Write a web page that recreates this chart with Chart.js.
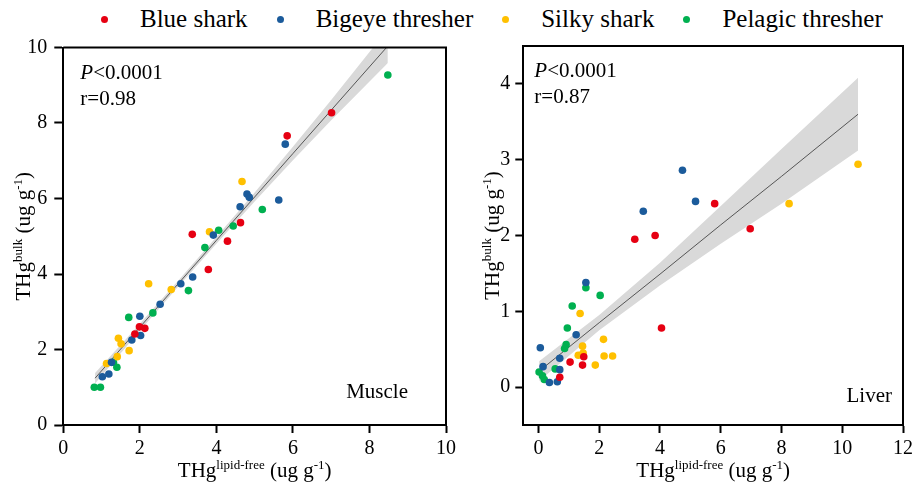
<!DOCTYPE html>
<html>
<head>
<meta charset="utf-8">
<script src="https://cdn.jsdelivr.net/npm/chart.js@4"></script>
<style>
  body { margin: 0; width: 917px; height: 487px; background: #fff; position: relative; overflow: hidden; font-family: "Liberation Serif", serif; }
  #legend { position: absolute; top: 5px; left: 101px; display: flex; align-items: center; font-size: 25px; color: #000; white-space: nowrap; }
  .item { display: flex; align-items: center; margin-right: 29px; }
  .dot { width: 7px; height: 7px; border-radius: 50%; margin-right: 32px; }
  canvas { position: absolute; top: 0; }
</style>
</head>
<body>
<div id="legend"></div>
<canvas id="muscle" width="470" height="487" style="left:0"></canvas>
<canvas id="liver" width="447" height="487" style="left:470px"></canvas>
<script>
const species = ['Blue shark', 'Bigeye thresher', 'Silky shark', 'Pelagic thresher'];
const colors = ['#e60012', '#1b5b9b', '#ffc000', '#00b050'];

// muscle: [lipid-free, bulk]
const muscleBlueShark = [[1.87,2.41],[1.99,2.60],[2.13,2.56],[3.79,4.12],[3.37,5.05],[4.29,4.87],[4.63,5.36],[5.85,7.66],[7.01,8.27]];
const muscleBigeye = [[1.02,1.28],[1.19,1.35],[1.26,1.66],[1.79,2.25],[2.02,2.37],[2.00,2.88],[2.53,3.20],[3.07,3.74],[3.38,3.92],[3.92,5.03],[4.62,5.78],[4.80,6.12],[4.86,6.03],[5.63,5.96],[5.80,7.44]];
const muscleSilky = [[1.13,1.63],[1.41,1.81],[1.72,1.97],[1.44,2.30],[1.51,2.15],[2.23,3.74],[2.82,3.59],[3.82,5.12],[4.67,6.45]];
const musclePelagic = [[0.81,1.00],[0.97,1.00],[1.40,1.53],[1.31,1.66],[1.71,2.85],[2.34,2.97],[3.27,3.56],[3.70,4.70],[4.06,5.16],[4.44,5.27],[5.20,5.71],[8.48,9.27]];

const muscleFitX = [0.83, 2, 3, 4, 5, 6, 7, 8.48];
const muscleFitY = [1.24, 2.59, 3.74, 4.89, 6.04, 7.19, 8.34, 10.04];
const muscleLower = [1.10, 2.50, 3.66, 4.80, 5.92, 7.01, 8.07, 9.59];
const muscleUpper = [1.38, 2.68, 3.82, 4.98, 6.16, 7.37, 8.61, 10.49];

// liver
const liverBlueShark = [[5.80,2.42],[3.17,1.95],[3.84,2.00],[4.05,0.78],[6.97,2.09],[1.49,0.40],[1.04,0.33],[1.45,0.29],[0.70,0.13]];
const liverBigeye = [[4.74,2.86],[5.17,2.45],[3.45,2.32],[1.56,1.38],[1.24,0.69],[0.06,0.52],[0.70,0.38],[0.15,0.27],[0.70,0.23],[0.36,0.06],[0.62,0.07]];
const liverSilky = [[8.25,2.42],[10.52,2.94],[1.37,0.97],[1.45,0.54],[2.14,0.63],[1.31,0.42],[1.47,0.45],[2.16,0.41],[2.44,0.41],[1.87,0.29]];
const liverPelagic = [[1.56,1.31],[2.03,1.21],[1.11,1.07],[0.95,0.78],[0.91,0.56],[0.86,0.51],[0.55,0.24],[0.02,0.20],[0.19,0.10],[0.13,0.15]];

const liverFitX = [0.02, 2, 4, 6, 8, 10.52];
const liverFitY = [0.21, 0.85, 1.49, 2.14, 2.78, 3.60];
const liverLower = [0.08, 0.75, 1.34, 1.89, 2.42, 3.12];
const liverUpper = [0.34, 0.95, 1.64, 2.39, 3.14, 4.08];

// tick labels
const muscleTicks = [0, 2, 4, 6, 8, 10];
const liverXTicks = [0, 2, 4, 6, 8, 10, 12];
const liverYTicks = [0, 1, 2, 3, 4];

const FONT = '"Liberation Serif", "Times New Roman", serif';
Chart.defaults.font.family = FONT;

// legend in html
const legend = document.getElementById('legend');
species.forEach((name, i) => {
  const item = document.createElement('div');
  item.className = 'item';
  item.innerHTML = '<span class="dot" style="background:' + colors[i] + '"></span><span>' + name + '</span>';
  legend.appendChild(item);
});

const toPts = arr => arr.map(p => ({ x: p[0], y: p[1] }));
const zip = (xs, ys) => xs.map((x, i) => ({ x: x, y: ys[i] }));

// draws text with superscripts, optionally rotated
function drawRich(ctx, parts, x, y, align, rotate) {
  ctx.save();
  ctx.translate(x, y);
  if (rotate) ctx.rotate(-Math.PI / 2);
  ctx.fillStyle = '#000';
  ctx.textBaseline = 'alphabetic';
  const fontOf = p => (p.italic ? 'italic ' : '') + (p.sup ? 13 : 21) + 'px ' + FONT;
  let total = 0;
  parts.forEach(p => { ctx.font = fontOf(p); total += ctx.measureText(p.t).width; });
  let cx = align === 'center' ? -total / 2 : (align === 'right' ? -total : 0);
  parts.forEach(p => {
    ctx.font = fontOf(p);
    ctx.fillText(p.t, cx, p.sup ? -8 : 0);
    cx += ctx.measureText(p.t).width;
  });
  ctx.restore();
}

const xTitle = [{ t: 'THg' }, { t: 'lipid-free', sup: true }, { t: ' (ug g' }, { t: '-1', sup: true }, { t: ')' }];
const yTitle = [{ t: 'THg' }, { t: 'bulk', sup: true }, { t: ' (ug g' }, { t: '-1', sup: true }, { t: ')' }];

const decorations = {
  id: 'decorations',
  afterDraw(chart, args, opts) {
    const ctx = chart.ctx;
    const a = chart.chartArea;
    // top and right frame
    ctx.save();
    ctx.strokeStyle = '#000';
    ctx.lineWidth = 2;
    ctx.beginPath();
    ctx.moveTo(a.left, a.top);
    ctx.lineTo(a.right, a.top);
    ctx.lineTo(a.right, a.bottom);
    ctx.stroke();
    ctx.restore();

    drawRich(ctx, [{ t: 'P', italic: true }, { t: '<0.0001' }], a.left + opts.noteX, a.top + 31, 'left');
    drawRich(ctx, [{ t: opts.r }], a.left + opts.noteX, a.top + 57, 'left');
    drawRich(ctx, [{ t: opts.tissue }], a.right - opts.tissueRight, opts.tissueY, 'right');
    drawRich(ctx, xTitle, (a.left + a.right) / 2, 477, 'center');
    drawRich(ctx, yTitle, opts.yTitleX, (a.top + a.bottom) / 2, 'center', true);
  }
};

function axis(min, max, ticks, tickLen, pad, fit) {
  return {
    type: 'linear', min: min, max: max,
    afterBuildTicks: s => { s.ticks = ticks.map(v => ({ value: v })); },
    ticks: { autoSkip: false, maxRotation: 0, padding: pad, color: '#000', font: { family: FONT, size: 20 } },
    grid: { drawOnChartArea: false, drawTicks: true, tickLength: tickLen, tickColor: '#000', tickWidth: 2 },
    border: { display: true, color: '#000', width: 2 },
    afterFit: fit
  };
}

function makeChart(id, groups, fitX, fitY, lower, upper, sc, pad, deco) {
  const datasets = groups.map((g, i) => ({
    label: species[i], data: toPts(g), backgroundColor: colors[i], borderWidth: 0, pointRadius: 3.8, order: 0
  }));
  datasets.push({ label: 'fit', data: zip(fitX, fitY), showLine: true, borderColor: '#333', borderWidth: 0.8, pointRadius: 0, fill: false, order: 1 });
  datasets.push({ label: 'lower', data: zip(fitX, lower), showLine: true, borderWidth: 0, pointRadius: 0, fill: false, order: 2 });
  datasets.push({ label: 'upper', data: zip(fitX, upper), showLine: true, borderWidth: 0, pointRadius: 0, backgroundColor: '#d9d9d9', fill: { target: datasets.length - 1 }, order: 2 });
  return new Chart(document.getElementById(id), {
    type: 'scatter',
    data: { datasets: datasets },
    options: {
      responsive: false, animation: false, devicePixelRatio: 1,
      layout: { padding: pad },
      plugins: { legend: { display: false }, tooltip: { enabled: false }, decorations: deco },
      scales: sc
    },
    plugins: [decorations]
  });
}

makeChart('muscle', [muscleBlueShark, muscleBigeye, muscleSilky, musclePelagic],
  muscleFitX, muscleFitY, muscleLower, muscleUpper,
  {
    x: axis(0, 10, muscleTicks, 8, 4, s => { s.height = 62; }),
    y: axis(0, 10, muscleTicks, 9, 7, s => { s.width = 63.3; })
  },
  { top: 47.5, right: 24, left: 0, bottom: 0 },
  { noteX: 17, r: 'r=0.98', tissue: 'Muscle', tissueRight: 38, tissueY: 398, yTitleX: 30 });

makeChart('liver', [liverBlueShark, liverBigeye, liverSilky, liverPelagic],
  liverFitX, liverFitY, liverLower, liverUpper,
  {
    x: axis(-0.5, 12, liverXTicks, 8, 4, s => { s.height = 62; }),
    y: axis(-0.5, 4.5, liverYTicks, 8, 5, s => { s.width = 53.3; })
  },
  { top: 46, right: 11, left: 0, bottom: 0 },
  { noteX: 11, r: 'r=0.87', tissue: 'Liver', tissueRight: 11, tissueY: 402, yTitleX: 29 });
</script>
</body>
</html>
